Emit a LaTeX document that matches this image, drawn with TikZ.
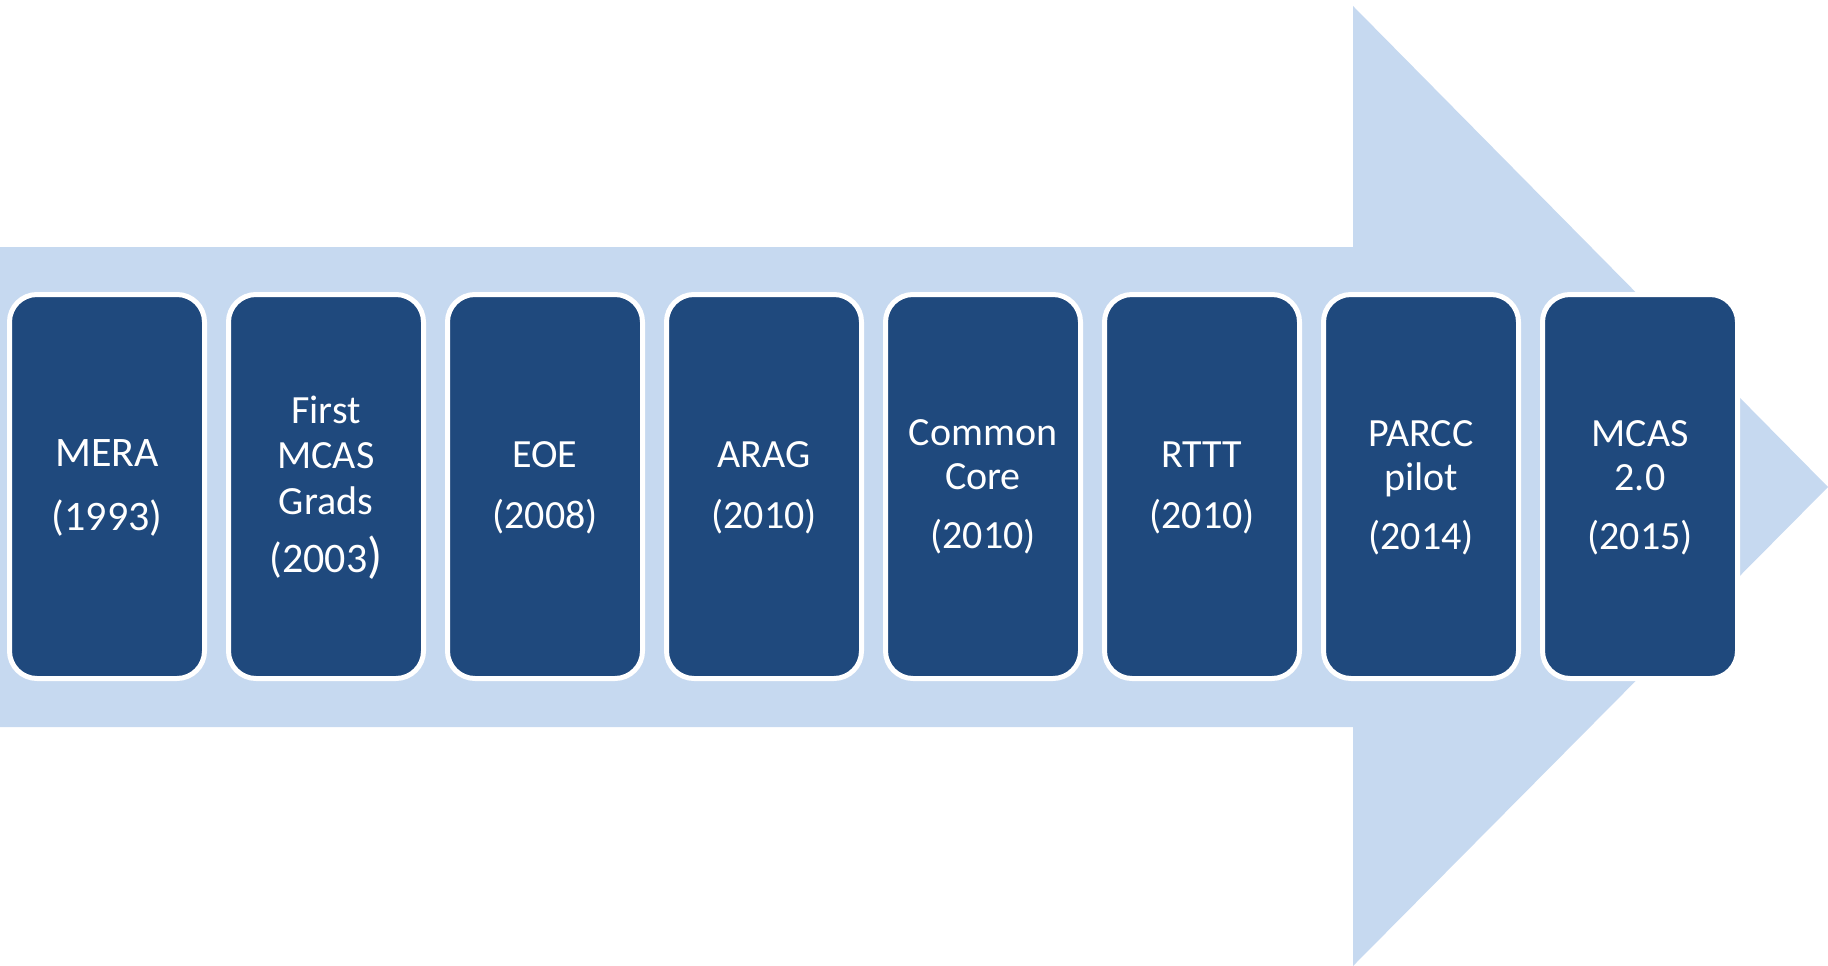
\documentclass[tikz,border=0pt]{standalone}
\usepackage{fontspec}
\setmainfont{Carlito}
\definecolor{darkblue}{RGB}{31,73,125}
\definecolor{lightblue}{RGB}{198,217,240}
\begin{document}
\begin{tikzpicture}[x=1pt,y=-1pt,
  box/.style={draw=white,line width=5pt,fill=darkblue,rounded corners=27.5pt,
    minimum width=195pt,minimum height=384pt,inner sep=0pt},
  lbl/.style={text=white,font=\fontsize{40}{44}\selectfont,anchor=base,inner sep=0pt},
  lblbig/.style={lbl,font=\fontsize{42}{46}\selectfont}]
\useasboundingbox (0,0) rectangle (1828,966);
% big arrow
\fill[lightblue] (0,247) -- (1353,247) -- (1353,6) -- (1828,487)
  -- (1353,966) -- (1353,727) -- (0,727) -- cycle;
% boxes
\foreach \i/\x in {1/107,2/326,3/545,4/764,5/983,6/1202,7/1421,8/1640}
  \node[box] (b\i) at (\x,486.5) {};
% texts
\node[lblbig] (t1a) at (107,466) {MERA};
\node[lblbig] (t1b) at (107,530) {(1993)};
\node[lbl] (t2a) at (326,423) {First};
\node[lbl] (t2b) at (326,468) {MCAS};
\node[lbl] (t2c) at (326,514) {Grads};
\node[lblbig] (t2d) at (326,572) {(2003{\fontsize{50}{50}\selectfont)}};
\node[lbl] (t3a) at (545,467) {EOE};
\node[lbl] (t3b) at (545,528) {(2008)};
\node[lbl] (t4a) at (764,467) {ARAG};
\node[lbl] (t4b) at (764,528) {(2010)};
\node[lbl] (t5a) at (983,445) {Common};
\node[lbl] (t5b) at (983,489) {Core};
\node[lbl] (t5c) at (983,548) {(2010)};
\node[lbl] (t6a) at (1202,467) {RTTT};
\node[lbl] (t6b) at (1202,528) {(2010)};
\node[lbl] (t7a) at (1421,446) {PARCC};
\node[lbl] (t7b) at (1421,490) {pilot};
\node[lbl] (t7c) at (1421,549) {(2014)};
\node[lbl] (t8a) at (1640,446) {MCAS};
\node[lbl] (t8b) at (1640,490) {2.0};
\node[lbl] (t8c) at (1640,549) {(2015)};
\end{tikzpicture}
\end{document}
